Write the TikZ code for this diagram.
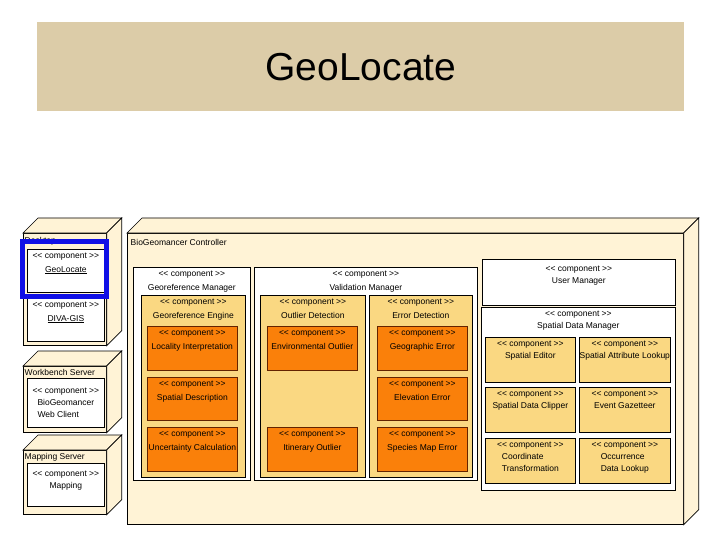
\documentclass[tikz,border=0pt]{standalone}
\usepackage{fontspec}
\newfontfamily\arialfont{Liberation Sans}
\definecolor{cream}{RGB}{255,243,214}
\definecolor{tanband}{RGB}{220,204,168}
\definecolor{paleorange}{RGB}{250,216,130}
\definecolor{deeporange}{RGB}{250,128,10}
\definecolor{rust}{RGB}{100,35,0}
\definecolor{markblue}{RGB}{16,16,230}
\newcommand{\stereo}{<< component >>}

\begin{document}
\begin{tikzpicture}[x=1pt, y=-1pt, font=\arialfont\fontsize{8.5}{14}\selectfont,
  device/.style={draw, fill=cream, line width=0.7pt, anchor=north west, inner sep=0pt},
  face/.style={draw, fill=cream, line width=0.7pt},
  part/.style={draw, fill=#1, line width=0.7pt, anchor=north west, inner sep=0pt},
  hot/.style={part=deeporange, draw=rust},
  tag/.style={anchor=north, align=center, inner sep=2pt, yshift=-1.5pt},
  stag/.style={tag, font=\arialfont\fontsize{8.5}{12}\selectfont},
  dlabel/.style={anchor=north west, inner sep=1.5pt, yshift=-1.5pt}]
  \path[use as bounding box, fill=white] (0,0) rectangle (720,540);
  \node[part=tanband, draw=none, minimum width=647, minimum height=89, font=\arialfont\fontsize{39}{44}\selectfont] (band) at (37,22) {GeoLocate};

  % nodes (3d boxes)
  \node[device, minimum width=83, minimum height=112, label={[dlabel, yshift=-1]north west:Desktop}] (desk) at (23,233) {};
  \node[device, minimum width=83, minimum height=66, label={[dlabel]north west:Workbench Server}] (work) at (23,366) {};
  \node[device, minimum width=83, minimum height=64, label={[dlabel]north west:Mapping Server}] (map) at (23,450) {};
  \node[device, minimum width=556, minimum height=291, label={[dlabel, xshift=2, yshift=-3]north west:BioGeomancer Controller}] (ctrl) at (127,233) {};
  \foreach \n in {desk,work,map,ctrl} {
    \draw[face] (\n.north west) -- ++(15,-15) -- ([shift={(15,-15)}]\n.north east) -- (\n.north east) -- cycle;
    \draw[face] (\n.north east) -- ([shift={(15,-15)}]\n.north east) -- ([shift={(15,-15)}]\n.south east) -- (\n.south east) -- cycle;
  }

  % components on the left
  \node[part=white, minimum width=77, minimum height=43, label={[tag]north:\stereo\\\underline{GeoLocate}}] (geolocate) at (27,249) {};
  \node[part=white, minimum width=77, minimum height=43, label={[tag]north:\stereo\\\underline{DIVA-GIS}}] (diva) at (27,298) {};
  \node[part=white, minimum width=77, minimum height=49, label={[stag, yshift=-6]north:\stereo\\BioGeomancer\\\rlap{Web Client}\phantom{BioGeomancer}}] (webclient) at (27,378) {};
  \node[part=white, minimum width=77, minimum height=43, label={[stag, yshift=-4]north:\stereo\\Mapping}] (mapping) at (27,463) {};

  % managers
  \node[part=white, minimum width=117, minimum height=213, label={[tag]north:\stereo\\Georeference Manager}] (georefmgr) at (133,267) {};
  \node[part=white, minimum width=223, minimum height=213, label={[tag]north:\stereo\\Validation Manager}] (validmgr) at (254,267) {};
  \node[part=white, minimum width=193, minimum height=46, label={[stag, yshift=-3]north:\stereo\\User Manager}] (usermgr) at (482,259) {};
  \node[part=white, minimum width=194, minimum height=183, label={[stag]north:\stereo\\Spatial Data Manager}] (spatialmgr) at (481,307) {};

  % georeference engine
  \node[part=paleorange, minimum width=104, minimum height=182, label={[tag]north:\stereo\\Georeference Engine}] (engine) at (141,295) {};
  \node[hot, minimum width=90, minimum height=44, label={[tag]north:\stereo\\Locality Interpretation}] (locality) at (147,326) {};
  \node[hot, minimum width=90, minimum height=43, label={[tag]north:\stereo\\Spatial Description}] (spatialdesc) at (147,377) {};
  \node[hot, minimum width=90, minimum height=44, label={[tag]north:\stereo\\Uncertainty Calculation}] (uncertainty) at (147,427) {};

  % outlier detection
  \node[part=paleorange, minimum width=105, minimum height=182, label={[tag]north:\stereo\\Outlier Detection}] (outlier) at (260,295) {};
  \node[hot, minimum width=90, minimum height=44, label={[tag]north:\stereo\\Environmental Outlier}] (envoutlier) at (267,326) {};
  \node[hot, minimum width=90, minimum height=44, label={[tag]north:\stereo\\Itinerary Outlier}] (itinerary) at (267,427) {};

  % error detection
  \node[part=paleorange, minimum width=103, minimum height=182, label={[tag]north:\stereo\\Error Detection}] (errordet) at (369,295) {};
  \node[hot, minimum width=90, minimum height=44, label={[tag]north:\stereo\\Geographic Error}] (geoerror) at (377,326) {};
  \node[hot, minimum width=90, minimum height=43, label={[tag]north:\stereo\\Elevation Error}] (elevation) at (377,377) {};
  \node[hot, minimum width=90, minimum height=44, label={[tag]north:\stereo\\Species Map Error}] (speciesmap) at (377,427) {};

  % spatial data manager parts
  \node[part=paleorange, minimum width=90, minimum height=45, label={[stag]north:\stereo\\Spatial Editor}] (editor) at (485,337) {};
  \node[part=paleorange, minimum width=91, minimum height=45, label={[stag]north:\stereo\\Spatial Attribute Lookup}] (attrlookup) at (579,337) {};
  \node[part=paleorange, minimum width=90, minimum height=45, label={[stag]north:\stereo\\Spatial Data Clipper}] (clipper) at (485,387) {};
  \node[part=paleorange, minimum width=91, minimum height=45, label={[stag]north:\stereo\\Event Gazetteer}] (gazetteer) at (579,387) {};
  \node[part=paleorange, minimum width=90, minimum height=45, label={[stag]north:\stereo\\\rlap{Coordinate}\phantom{Transformation}\\Transformation}] (coordtrans) at (485,438) {};
  \node[part=paleorange, minimum width=91, minimum height=45, label={[stag]north:\stereo\\\rlap{Occurrence}\phantom{Data Lookup}\\Data Lookup}] (occlookup) at (579,438) {};

  % highlight on GeoLocate
  \node[draw=markblue, line width=5pt, anchor=north west, inner sep=0pt, minimum width=84, minimum height=55] (mark) at (20,239) {};
\end{tikzpicture}
\end{document}
